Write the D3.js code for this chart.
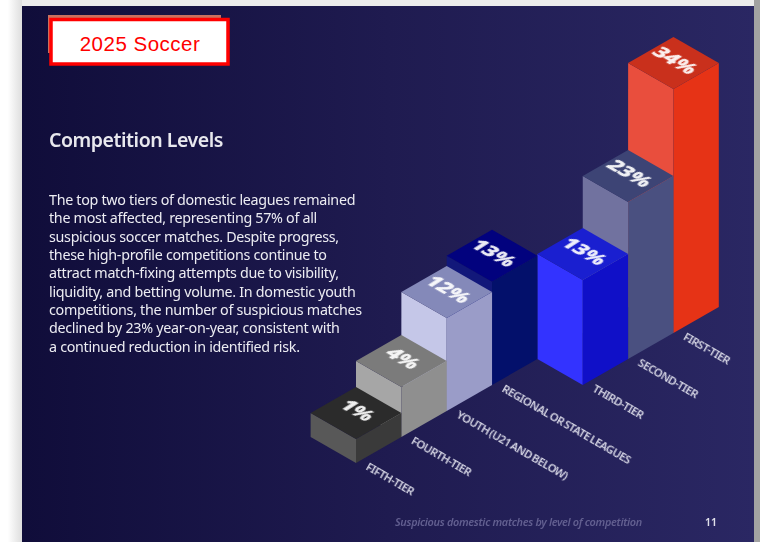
<!DOCTYPE html>
<html><head><meta charset="utf-8">
<script src="https://cdn.jsdelivr.net/npm/d3@7"></script>
<style>html,body{margin:0;padding:0;background:#fff;overflow:hidden}svg{display:block}</style>
</head><body><svg id="c" width="760" height="542"></svg>
<script>
const categories = ["FIFTH-TIER","FOURTH-TIER","YOUTH (U21 AND BELOW)","REGIONAL OR STATE LEAGUES","THIRD-TIER","SECOND-TIER","FIRST-TIER"];
const values = [1,4,12,12.9,13.1,23,34];
const groups = ["lower","lower","lower","lower","upper","upper","upper"];
const topColors = ["#2b2b2b","#7b7b7b","#8489b9","#02027e","#1a1fd0","#3d4475","#c9301c"];
const leftColors = ["#585858","#a6a6a6","#c5c7e8","#12187a","#3333ff","#71729f","#e94e3d"];
const rightColors = ["#3a3a3a","#8f8f8f","#9a9cc8","#03106b","#1010c8","#4a5080","#e63316"];
const bodyLines = ["The top two tiers of domestic leagues remained","the most affected, representing 57% of all","suspicious soccer matches. Despite progress,","these high-profile competitions continue to","attract match-fixing attempts due to visibility,","liquidity, and betting volume. In domestic youth","competitions, the number of suspicious matches","declined by 23% year-on-year, consistent with","a continued reduction in identified risk."];

const svg = d3.select("#c");
const defs = svg.append("defs");
const g = defs.append("linearGradient").attr("id","bg");
g.append("stop").attr("offset","0").attr("stop-color","#100d3a");
g.append("stop").attr("offset","0.5").attr("stop-color","#1f1b50");
g.append("stop").attr("offset","1").attr("stop-color","#2a2763");
const sh = defs.append("linearGradient").attr("id","sh");
sh.append("stop").attr("offset","0.35").attr("stop-color","#fff");
sh.append("stop").attr("offset","1").attr("stop-color","#dedede");
defs.append("filter").attr("id","soft").append("feGaussianBlur").attr("stdDeviation",0.3);

svg.append("rect").attr("width",760).attr("height",6).attr("fill","#ececec");
svg.append("rect").attr("y",0).attr("width",22).attr("height",542).attr("fill","url(#sh)");
svg.append("rect").attr("x",754).attr("width",6).attr("height",542).attr("fill","#a2a2a2");
svg.append("rect").attr("x",22).attr("y",6).attr("width",732).attr("height",536).attr("fill","url(#bg)");

// Label box
svg.append("rect").attr("x",48).attr("y",15).attr("width",173).attr("height",38).attr("fill","#c9705f");
svg.append("rect").attr("x",51).attr("y",19.5).attr("width",177).attr("height",44.5).attr("fill","#fff").attr("stroke","#f00").attr("stroke-width",3.5);
svg.append("text").attr("x",140).attr("y",51).attr("text-anchor","middle").attr("fill","#f00")
  .attr("font-family","Liberation Sans").attr("font-size",20.5).attr("letter-spacing",0.5).text("2025 Soccer");

const sans = "'Noto Sans'";
const txt = svg.append("g").attr("filter","url(#soft)");
txt.append("text").attr("x",49).attr("y",147).attr("fill","#e8e8ee").attr("font-family",sans).attr("font-weight",600).attr("font-size",19.5).attr("letter-spacing",-0.45).text("Competition Levels");
txt.append("g").selectAll("text").data(bodyLines).join("text")
  .attr("x",49).attr("y",(d,i)=>205+i*18.35).attr("fill","#ececf2").attr("font-family",sans).attr("font-size",14.3).attr("letter-spacing",-0.3).text(d=>d);

// Isometric scales: u runs up-right along the categories, v runs down-right between groups.
const halfW = 45.35, halfD = 26;
const u = d3.scalePoint().domain(categories).range([0,6]);
const v = d3.scaleOrdinal().domain(["lower","upper"]).range([0,1]);
const fx = d3.scaleLinear().domain([0,1]).range([356,356+halfW]);
const fy = d3.scaleLinear().domain([0,1]).range([463,463-halfD]);
const h = d3.scaleLinear().domain([1,4,12,13,23,34]).range([24,50,93,104.5,157,244]);
const fmt = d3.format(".0f");

const data = categories.map((c,i)=>{
  const s = u(c)+v(groups[i]);      // horizontal steps
  const d = u(c)-v(groups[i]);      // rise steps
  return {c,i,val:values[i],x:fx(s),y:fy(d),h:h(values[i])};
});
const poly = pts => d3.line()(pts)+"Z";
const bars = svg.append("g").selectAll("g").data(data.slice().reverse()).join("g");
bars.append("path").attr("fill",d=>leftColors[d.i]).attr("d",d=>poly([[d.x-halfW,d.y-halfD],[d.x,d.y],[d.x,d.y-d.h],[d.x-halfW,d.y-d.h-halfD]]));
bars.append("path").attr("fill",d=>rightColors[d.i]).attr("d",d=>poly([[d.x+halfW,d.y-halfD],[d.x,d.y],[d.x,d.y-d.h],[d.x+halfW,d.y-d.h-halfD]]));
bars.append("path").attr("fill",d=>topColors[d.i]).attr("d",d=>poly([[d.x,d.y-d.h],[d.x+halfW,d.y-d.h-halfD],[d.x,d.y-d.h-2*halfD],[d.x-halfW,d.y-d.h-halfD]]));
bars.append("text").attr("filter","url(#soft)").attr("text-anchor","middle").attr("font-family",sans).attr("font-weight",800).attr("font-size",21).attr("fill","#fff").attr("fill-opacity",.92)
  .attr("stroke","#fff").attr("stroke-width",0.5).attr("stroke-opacity",.8)
  .attr("transform",d=>`matrix(0.866,0.5,-0.75,0.48,${d.x-4},${d.y-d.h-halfD+1})`).text(d=>fmt(d.val)+"%");
bars.append("text").attr("filter","url(#soft)").attr("font-family",sans).attr("font-weight",600).attr("font-size",11.3).attr("letter-spacing",-0.55).attr("word-spacing",-0.9).attr("fill","#d5d5e4")
  .attr("transform",d=>`translate(${d.x+9},${d.y+6}) rotate(30)`).text(d=>d.c);

txt.append("text").attr("x",395).attr("y",526).attr("fill","#625f90").attr("font-family",sans).attr("font-style","italic").attr("font-weight",600).attr("font-size",10.85).attr("letter-spacing",-0.3).text("Suspicious domestic matches by level of competition");
txt.append("text").attr("x",705).attr("y",526).attr("fill","#e0e0ea").attr("font-family",sans).attr("font-weight",600).attr("font-size",10.5).text("11");
</script></body></html>
